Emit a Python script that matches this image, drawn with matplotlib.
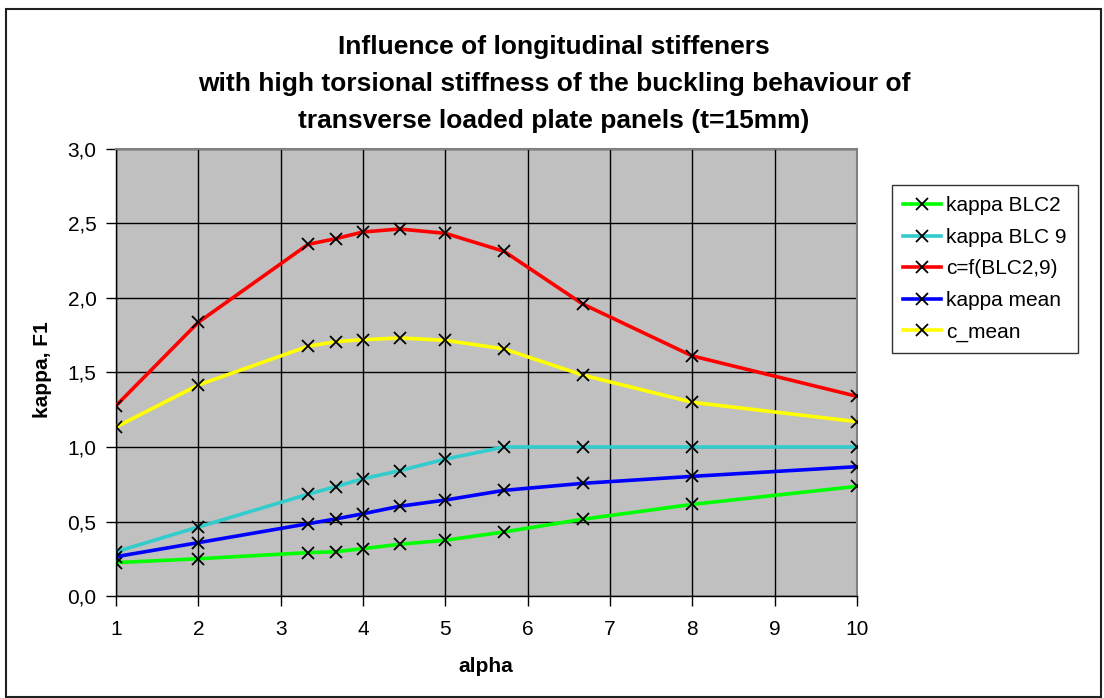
import matplotlib
matplotlib.use("Agg")
import matplotlib.pyplot as plt
from matplotlib.ticker import FuncFormatter, MultipleLocator
from matplotlib.patches import Rectangle

plt.rcParams['font.family'] = ['Liberation Sans', 'DejaVu Sans']

alpha = [1, 2, 3.333, 3.667, 4, 4.444, 5, 5.714, 6.667, 8, 10]
kappa_blc2 = [0.224, 0.250, 0.291, 0.297, 0.318, 0.347, 0.374, 0.430, 0.515, 0.615, 0.736]
kappa_blc9 = [0.297, 0.463, 0.683, 0.734, 0.787, 0.841, 0.919, 1.0, 1.0, 1.0, 1.0]
c_blc = [1.277, 1.837, 2.360, 2.398, 2.443, 2.463, 2.434, 2.313, 1.960, 1.611, 1.340]
kappa_mean = [0.264, 0.358, 0.485, 0.517, 0.552, 0.602, 0.644, 0.709, 0.756, 0.803, 0.868]
c_mean = [1.134, 1.416, 1.676, 1.707, 1.720, 1.732, 1.716, 1.658, 1.483, 1.300, 1.170]

series = [
    ("kappa BLC2", kappa_blc2, "#00FF00"),
    ("kappa BLC 9", kappa_blc9, "#33CCCC"),
    ("c=f(BLC2,9)", c_blc, "#FF0000"),
    ("kappa mean", kappa_mean, "#0000FF"),
    ("c_mean", c_mean, "#FFFF00"),
]

W, H = 1104, 698
fig = plt.figure(figsize=(W / 100, H / 100), dpi=100)
fig.patch.set_facecolor("white")

L, R, T, B = 116, 857, 149, 596
ax = fig.add_axes([L / W, 1 - B / H, (R - L) / W, (B - T) / H])
ax.set_facecolor("#C0C0C0")

for label, vals, col in series:
    ax.plot(alpha, vals, color=col, lw=2.6, marker="x", markersize=8,
            markeredgecolor="black", markeredgewidth=1.3, label=label, zorder=3)

ax.set_xlim(1, 10)
ax.set_ylim(0, 3.0)
ax.xaxis.set_major_locator(MultipleLocator(1))
ax.yaxis.set_major_locator(MultipleLocator(0.5))
ax.yaxis.set_major_formatter(FuncFormatter(lambda v, p: f"{v:.1f}".replace(".", ",")))
ax.xaxis.set_major_formatter(FuncFormatter(lambda v, p: f"{int(round(v))}"))
ax.grid(True, color="black", lw=1.0)
ax.set_axisbelow(True)
ax.tick_params(axis="both", direction="out", length=7, width=1.0, color="black",
               labelsize=15, pad=7)
ax.tick_params(axis="x", pad=10)
for s in ["top", "right"]:
    ax.spines[s].set_color("#808080")
    ax.spines[s].set_linewidth(1.5)
for s in ["left", "bottom"]:
    ax.spines[s].set_color("black")
    ax.spines[s].set_linewidth(1.0)

fig.text(486 / W, 1 - 667 / H, "alpha", ha="center", va="center",
         fontsize=15, fontweight="bold")
fig.text(43 / W, 1 - 370 / H, "kappa, F1", ha="center", va="center",
         rotation=90, fontsize=15, fontweight="bold")

title_lines = ["Influence of longitudinal stiffeners",
               "with high torsional stiffness of the buckling behaviour of",
               "transverse loaded plate panels (t=15mm)"]
for yy, line in zip([47, 84, 121], title_lines):
    fig.text(554 / W, 1 - yy / H, line, ha="center", va="center",
             fontsize=19, fontweight="bold")

leg = fig.legend(loc="upper left", bbox_to_anchor=(892 / W, 1 - 185 / H),
                 frameon=True, fancybox=False, edgecolor="black", fontsize=15,
                 handlelength=1.8, handletextpad=0.25, labelspacing=0.6,
                 borderpad=0.55, borderaxespad=0)
leg.get_frame().set_linewidth(1.0)

fig.patches.append(Rectangle((6 / W, 1 - 697 / H), (1101 - 6) / W, (697 - 9) / H,
                             transform=fig.transFigure, fill=False,
                             edgecolor="#202020", lw=1.5))

fig.savefig("out.png", dpi=100)
